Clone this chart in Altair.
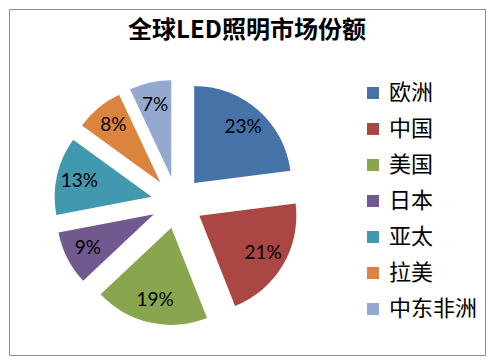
import math
import altair as alt
import pandas as pd

regions = ["欧洲", "中国", "美国", "日本", "亚太", "拉美", "中东非洲"]
shares = [23, 21, 19, 9, 13, 8, 7]
colors = ["#4572A7", "#AA4643", "#89A54E", "#71588F", "#4198AF", "#DB843D", "#93A9CF"]
title_text = "全球LED照明市场份额"

RADIUS_PX = 97
EXPLODE = 26 / 97      # explosion distance in radius units
LABEL_R = 100 / 97     # label distance from pie center in radius units

total = sum(shares)
rows = []
cum = 0
for r, v in zip(regions, shares):
    a0 = 2 * math.pi * cum / total
    cum += v
    a1 = 2 * math.pi * cum / total
    mid = (a0 + a1) / 2
    rows.append(dict(region=r, value=v, start=a0, end=a1,
                     cx=EXPLODE * math.sin(mid), cy=EXPLODE * math.cos(mid),
                     lx=LABEL_R * math.sin(mid), ly=LABEL_R * math.cos(mid),
                     label=f"{v}%"))
df = pd.DataFrame(rows)

W, H = 476, 346
xs = alt.Scale(domain=[-168 / 97, (W - 168) / 97], nice=False, zero=False)
ys = alt.Scale(domain=[-(H - 193.5) / 97, 193.5 / 97], nice=False, zero=False)

base = alt.Chart(df)

arcs = base.mark_arc(outerRadius=RADIUS_PX).encode(
    x=alt.X("cx:Q", scale=xs, axis=None),
    y=alt.Y("cy:Q", scale=ys, axis=None),
    theta=alt.Theta("start:Q", scale=None),
    theta2="end:Q",
    color=alt.Color(
        "region:N",
        scale=alt.Scale(domain=regions, range=colors),
        sort=regions,
        legend=alt.Legend(
            title=None, orient="none", legendX=353, legendY=73,
            symbolType="square", symbolSize=144, symbolStrokeWidth=0,
            labelFontSize=22, labelFont="Noto Sans CJK SC", labelColor="#000000",
            rowPadding=14, labelOffset=5, padding=0,
        ),
    ),
)

labels = base.mark_text(font="Lato", fontSize=19, color="#000000").encode(
    x=alt.X("lx:Q", scale=xs, axis=None),
    y=alt.Y("ly:Q", scale=ys, axis=None),
    text="label:N",
)

title = alt.Chart(pd.DataFrame({"t": [title_text]})).mark_text(
    font="Noto Sans CJK SC", fontSize=24, fontWeight="bold", color="#000000"
).encode(x=alt.value(238), y=alt.value(22), text="t:N")

chart = alt.layer(arcs, labels, title).properties(
    width=W, height=H, padding=1
).configure_view(stroke="#8c8c8c", strokeWidth=1)

chart.save("out.html", embed_options={"renderer": "svg", "actions": False})
